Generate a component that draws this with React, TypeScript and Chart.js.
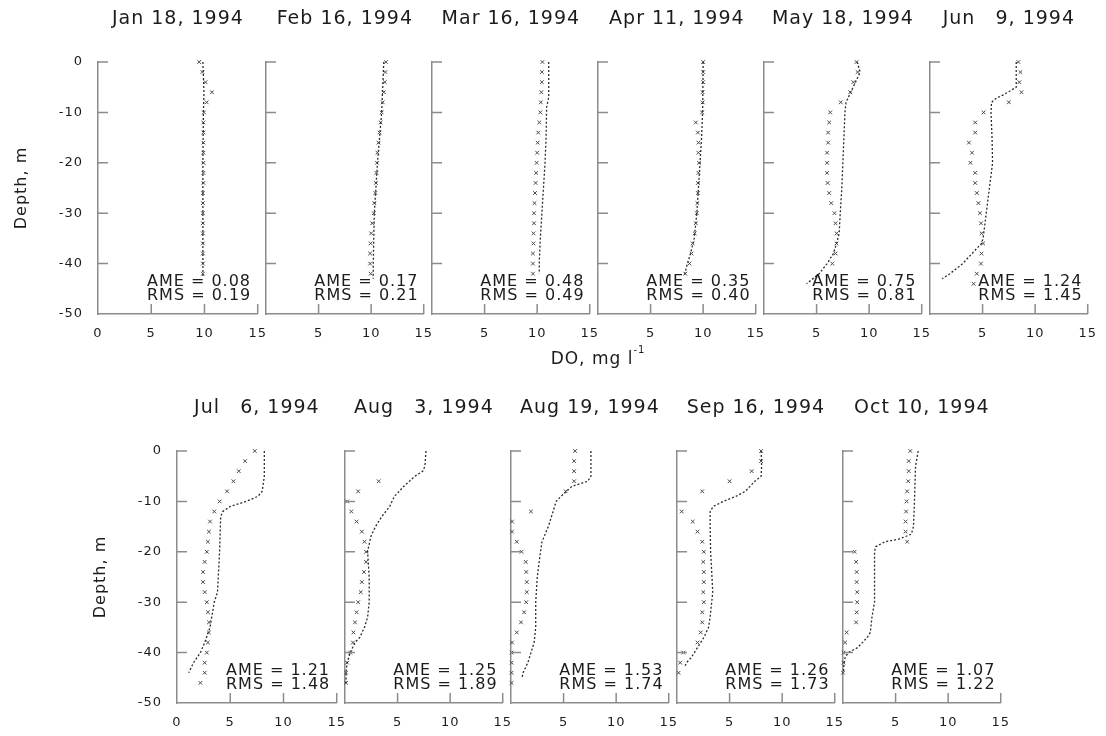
import React, { useEffect, useRef } from 'react';
import { Chart, registerables } from 'chart.js';

Chart.register(...registerables);

// ---------------- data ----------------
const panelTitles = [
  'Jan 18, 1994', 'Feb 16, 1994', 'Mar 16, 1994', 'Apr 11, 1994', 'May 18, 1994', 'Jun \u20079, 1994',
  'Jul \u20076, 1994', 'Aug \u20073, 1994', 'Aug 19, 1994', 'Sep 16, 1994', 'Oct 10, 1994',
];
const ameValues = ['0.08', '0.17', '0.48', '0.35', '0.75', '1.24', '1.21', '1.25', '1.53', '1.26', '1.07'];
const rmsValues = ['0.19', '0.21', '0.49', '0.40', '0.81', '1.45', '1.48', '1.89', '1.74', '1.73', '1.22'];

const obsDepths = [0, -2, -4, -6, -8, -10, -12, -14, -16, -18, -20, -22, -24, -26, -28, -30, -32, -34, -36, -38, -40, -42, -44, -46];

const jan18ModelDepth = [0, -3, -6, -10, -20, -30, -40, -42.5];
const jan18Model = [9.85, 9.9, 9.95, 9.9, 9.85, 9.85, 9.85, 9.85];
const jan18Obs = [9.5, 9.8, 10.1, 10.7, 10.2, 9.95, 9.9, 9.9, 9.9, 9.9, 9.9, 9.9, 9.9, 9.85, 9.85, 9.85, 9.85, 9.85, 9.85, 9.85, 9.85, 9.85, null, null];

const feb16ModelDepth = [0, -5, -10, -15, -20, -25, -30, -35, -40, -43];
const feb16Model = [11.2, 11.1, 11.0, 10.8, 10.6, 10.45, 10.3, 10.25, 10.2, 10.2];
const feb16Obs = [11.4, 11.35, 11.3, 11.2, 11.1, 11.0, 10.9, 10.8, 10.7, 10.6, 10.55, 10.5, 10.45, 10.4, 10.3, 10.25, 10.1, 10.0, 9.95, 9.9, 9.9, 9.95, null, null];

const mar16ModelDepth = [0, -4, -7, -9, -15, -20, -25, -30, -35, -40, -42];
const mar16Model = [11.1, 11.1, 11.1, 10.9, 10.85, 10.75, 10.6, 10.45, 10.3, 10.2, 10.2];
const mar16Obs = [10.5, 10.45, 10.45, 10.4, 10.35, 10.3, 10.2, 10.1, 10.05, 10.0, 9.95, 9.9, 9.85, 9.8, 9.75, 9.7, 9.7, 9.65, 9.65, 9.6, 9.6, 9.6, null, null];

const apr11ModelDepth = [0, -10, -15, -20, -25, -30, -35, -38, -40, -42.5];
const apr11Model = [10.0, 9.95, 9.85, 9.7, 9.55, 9.4, 9.15, 8.8, 8.5, 8.2];
const apr11Obs = [10.0, 10.0, 10.0, 9.95, 9.95, 9.9, 9.3, 9.5, 9.55, 9.55, 9.6, 9.55, 9.5, 9.5, 9.45, 9.4, 9.3, 9.2, 9.0, 8.9, 8.7, 8.3, null, null];

const may18ModelDepth = [0, -2, -4, -6, -8, -10, -15, -20, -25, -30, -34, -36, -38, -40, -42, -44];
const may18Model = [8.85, 9.15, 8.7, 8.25, 7.8, 7.7, 7.6, 7.5, 7.4, 7.25, 7.15, 6.9, 6.6, 6.0, 5.25, 4.05];
const may18Obs = [8.8, 8.9, 8.5, 8.2, 7.3, 6.3, 6.2, 6.1, 6.1, 6.0, 6.0, 6.0, 6.05, 6.2, 6.4, 6.7, 6.8, 6.9, 6.9, 6.8, 6.5, null, null, null];

const jun9ModelDepth = [0, -2, -4, -5, -5.5, -6.5, -7.2, -8, -10, -15, -20, -25, -30, -35, -36, -38, -40, -42, -43];
const jun9Model = [8.2, 8.2, 8.2, 8.2, 7.8, 7.0, 6.3, 5.85, 5.8, 5.9, 5.95, 5.65, 5.35, 5.05, 4.9, 4.0, 3.1, 1.9, 1.15];
const jun9Obs = [8.4, 8.6, 8.5, 8.7, 7.5, 5.1, 4.3, 4.3, 3.7, 4.0, 3.85, 4.3, 4.3, 4.45, 4.6, 4.75, 4.85, 4.9, 5.05, 4.9, 4.85, 4.45, 4.15, null];

const jul6ModelDepth = [0, -5, -8, -9, -10, -11, -12, -13, -20, -28, -30, -35, -38, -40, -42, -44];
const jul6Model = [8.2, 8.2, 8.0, 7.6, 6.5, 5.0, 4.3, 4.1, 4.0, 3.8, 3.5, 3.1, 2.6, 2.2, 1.55, 1.1];
const jul6Obs = [7.3, 6.4, 5.8, 5.3, 4.7, 4.0, 3.5, 3.1, 3.0, 2.9, 2.8, 2.6, 2.45, 2.45, 2.6, 2.8, 2.9, 3.0, 3.0, 2.9, 2.8, 2.6, 2.6, 2.2];

const aug3ModelDepth = [0, -3, -4, -5, -7, -9, -11, -13, -15, -17, -20, -25, -30, -33, -35, -37, -38, -40, -42, -44, -46];
const aug3Model = [7.7, 7.6, 7.4, 6.65, 5.6, 4.7, 4.25, 3.5, 2.9, 2.45, 2.15, 2.3, 2.3, 2.15, 1.85, 1.4, 0.95, 0.5, 0.2, 0.1, 0.1];
const aug3Obs = [null, null, null, 3.2, 1.25, 0.2, 0.6, 1.1, 1.6, 1.85, 2.0, 2.0, 1.8, 1.6, 1.5, 1.25, 1.1, 0.95, 0.8, 0.75, 0.5, 0.2, 0.1, 0.1];

const aug19ModelDepth = [0, -5, -6, -7, -9, -10, -12, -15, -18, -20, -25, -30, -35, -38, -40, -42, -44, -45];
const aug19Model = [7.6, 7.6, 7.3, 5.8, 4.75, 4.3, 4.0, 3.55, 2.95, 2.8, 2.5, 2.35, 2.35, 2.2, 1.9, 1.6, 1.15, 1.05];
const aug19Obs = [6.1, 6.0, 6.0, 6.0, 5.2, null, 1.9, 0.1, 0.1, 0.55, 1.0, 1.4, 1.45, 1.5, 1.5, 1.45, 1.25, 0.95, 0.55, 0.1, 0.05, 0.05, 0.05, 0.05];

const sep16ModelDepth = [0, -3, -5, -6, -8, -9, -10, -11, -12, -15, -20, -28, -33, -35, -37, -39, -41, -42, -43];
const sep16Model = [8.0, 8.05, 8.0, 7.4, 6.5, 5.6, 4.4, 3.45, 3.15, 3.15, 3.2, 3.4, 3.15, 3.0, 2.55, 1.95, 1.35, 0.9, 0.7];
const sep16Obs = [8.0, 8.0, 7.1, 5.0, 2.4, null, 0.45, 1.5, 1.95, 2.4, 2.55, 2.5, 2.55, 2.55, 2.5, 2.55, 2.4, 2.4, 2.25, 1.95, 0.6, 0.3, 0.15, null];

const oct10ModelDepth = [0, -3, -6, -10, -15, -16.5, -17.5, -18, -19, -20, -25, -30, -33, -36, -37, -39, -40, -41, -42, -44];
const oct10Model = [7.15, 6.9, 6.85, 6.8, 6.7, 6.5, 5.3, 4.0, 3.1, 3.0, 3.0, 3.0, 2.75, 2.6, 2.3, 1.4, 0.5, 0.2, 0.1, 0.05];
const oct10Obs = [6.4, 6.25, 6.25, 6.2, 6.1, 6.05, 6.0, 5.95, 5.95, 6.1, 1.1, 1.25, 1.3, 1.3, 1.35, 1.35, 1.3, 1.25, 0.35, 0.2, 0.05, 0.05, 0.0, null];

const modelDepths = [jan18ModelDepth, feb16ModelDepth, mar16ModelDepth, apr11ModelDepth, may18ModelDepth, jun9ModelDepth,
  jul6ModelDepth, aug3ModelDepth, aug19ModelDepth, sep16ModelDepth, oct10ModelDepth];
const modelValues = [jan18Model, feb16Model, mar16Model, apr11Model, may18Model, jun9Model,
  jul6Model, aug3Model, aug19Model, sep16Model, oct10Model];
const obsValues = [jan18Obs, feb16Obs, mar16Obs, apr11Obs, may18Obs, jun9Obs,
  jul6Obs, aug3Obs, aug19Obs, sep16Obs, oct10Obs];

// ---------------- layout / style ----------------
const FONT = '"DejaVu Sans", Verdana, sans-serif';
const TEXT = '#1c1c1c';
const AXIS = '#8c8c8c';
const PW = 166; // panel plot width
const PH = 252; // panel plot height
const T = 62;
const R = 14;
const B = 40;
const rowAxesX = [[98, 264, 430, 596, 762, 928], [177, 343, 509, 675, 841]];
const rowTopY = [62, 451];

const spacingPlugin = {
  id: 'spacing',
  beforeDraw(chart: any) {
    chart.ctx.letterSpacing = '1px';
  },
};

const marksPlugin = {
  id: 'panelMarks',
  afterDatasetsDraw(chart: any, _args: any, opts: any) {
    const { ctx, chartArea: a, scales } = chart;
    const x = scales.x;
    const y = scales.y;
    ctx.save();
    ctx.strokeStyle = AXIS;
    ctx.lineWidth = 1.5;
    ctx.beginPath();
    y.ticks.forEach((t: any) => {
      if (t.value > y.min) {
        const py = y.getPixelForValue(t.value);
        ctx.moveTo(a.left, py);
        ctx.lineTo(a.left + 10, py);
      }
    });
    x.ticks.forEach((t: any) => {
      if (t.value > x.min) {
        const px = x.getPixelForValue(t.value);
        ctx.moveTo(px, a.bottom);
        ctx.lineTo(px, a.bottom - 10);
      }
    });
    ctx.stroke();
    ctx.fillStyle = TEXT;
    ctx.font = `16px ${FONT}`;
    ctx.letterSpacing = '1px';
    ctx.textBaseline = 'middle';
    ctx.textAlign = 'left';
    const tx = x.getPixelForValue(4.6);
    ctx.fillText(`AME = ${opts.ame}`, tx, y.getPixelForValue(-43.6));
    ctx.fillText(`RMS = ${opts.rms}`, tx, y.getPixelForValue(-46.4));
    ctx.restore();
  },
};

function Panel({ idx, axisX, topY, first }: { idx: number; axisX: number; topY: number; first: boolean }) {
  const ref = useRef<HTMLCanvasElement>(null);
  const L = first ? 98 : 10;
  const W = L + PW + R;
  const H = T + PH + B;

  useEffect(() => {
    if (!ref.current) return;
    const md = modelDepths[idx];
    const mv = modelValues[idx];
    const ov = obsValues[idx];
    const modelPts = md.map((d, i) => ({ x: mv[i], y: d }));
    const obsPts = obsDepths
      .map((d, i) => ({ x: ov[i] as number | null, y: d }))
      .filter((p) => p.x !== null);
    const chart = new Chart(ref.current, {
      type: 'scatter',
      data: {
        datasets: [
          {
            label: 'Simulated',
            data: modelPts as any,
            showLine: true,
            borderColor: '#2b2b2b',
            borderWidth: 1.3,
            borderDash: [2, 2],
            pointRadius: 0,
            clip: 6,
          } as any,
          {
            label: 'Observed',
            data: obsPts as any,
            showLine: false,
            pointStyle: 'crossRot',
            pointRadius: 2.6,
            borderColor: '#4a4a4a',
            borderWidth: 1,
            clip: 6,
          } as any,
        ],
      },
      options: {
        responsive: false,
        animation: false,
        devicePixelRatio: 1,
        layout: { padding: { top: 0, left: 0, right: R, bottom: 0 }, autoPadding: false } as any,
        events: [],
        plugins: {
          legend: { display: false },
          tooltip: { enabled: false },
          title: {
            display: true,
            text: panelTitles[idx],
            color: TEXT,
            fullSize: false,
            font: { family: FONT, size: 19, weight: 'normal', lineHeight: 1.2 } as any,
            padding: { top: 7.6, bottom: T - 7.6 - 22.8 },
          },
          panelMarks: { ame: ameValues[idx], rms: rmsValues[idx] },
        } as any,
        scales: {
          x: {
            type: 'linear',
            position: 'bottom',
            min: 0,
            max: 15,
            afterFit: (s: any) => { s.height = B; },
            grid: { display: false, drawTicks: false },
            border: { display: true, color: AXIS, width: 1.5 },
            ticks: {
              stepSize: 5,
              padding: 12,
              color: TEXT,
              maxRotation: 0,
              autoSkip: false,
              font: { family: FONT, size: 13 },
              callback: (v: any) => (v === 0 && !first ? '' : String(v)),
            },
          },
          y: {
            type: 'linear',
            position: 'left',
            min: -50,
            max: 0,
            afterFit: (s: any) => { s.width = L; },
            grid: { display: false, drawTicks: false },
            border: { display: true, color: AXIS, width: 1.5 },
            ticks: {
              display: first,
              stepSize: 10,
              padding: 15,
              color: TEXT,
              font: { family: FONT, size: 13 },
            },
            title: {
              display: first,
              text: 'Depth, m',
              color: TEXT,
              font: { family: FONT, size: 16 },
              padding: { top: 12, bottom: 0 },
            },
          },
        } as any,
      },
      plugins: [spacingPlugin, marksPlugin],
    });
    return () => chart.destroy();
  }, [idx, first, L]);

  return (
    <canvas
      ref={ref}
      width={W}
      height={H}
      style={{ position: 'absolute', left: axisX - L, top: topY - T, width: W, height: H, display: 'block' }}
    />
  );
}

export default function App() {
  const items: { idx: number; axisX: number; topY: number; first: boolean }[] = [];
  let k = 0;
  rowAxesX.forEach((row, r) => {
    row.forEach((ax, c) => {
      items.push({ idx: k, axisX: ax, topY: rowTopY[r], first: c === 0 });
      k += 1;
    });
  });
  return (
    <div
      style={{
        position: 'fixed',
        left: 0,
        top: 0,
        width: 1106,
        height: 736,
        background: '#ffffff',
        overflow: 'hidden',
        fontFamily: FONT,
      }}
    >
      {items.map((it) => (
        <Panel key={it.idx} idx={it.idx} axisX={it.axisX} topY={it.topY} first={it.first} />
      ))}
      <div
        style={{
          position: 'absolute',
          left: 598,
          top: 348,
          transform: 'translateX(-50%)',
          fontSize: 17,
          letterSpacing: '1px',
          color: TEXT,
          whiteSpace: 'nowrap',
          lineHeight: '20px',
        }}
      >
        DO, mg l<sup style={{ fontSize: 10, verticalAlign: 'top', lineHeight: '10px', position: 'relative', top: -3 }}>-1</sup>
      </div>
    </div>
  );
}
